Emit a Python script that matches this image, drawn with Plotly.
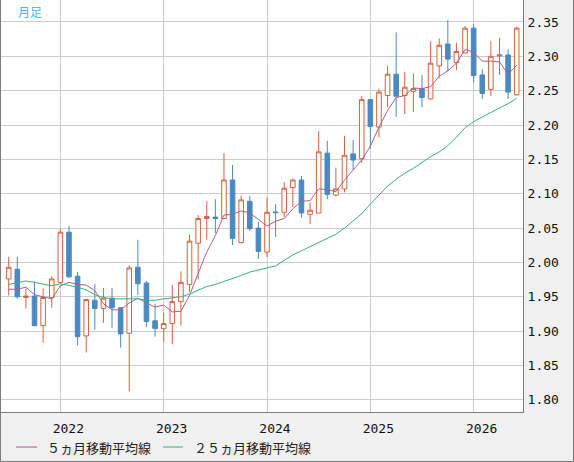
import plotly.graph_objects as go

# monthly candles, Jul 2021 - Jun 2026
months = [
    "2021-07", "2021-08", "2021-09", "2021-10", "2021-11", "2021-12",
    "2022-01", "2022-02", "2022-03", "2022-04", "2022-05", "2022-06",
    "2022-07", "2022-08", "2022-09", "2022-10", "2022-11", "2022-12",
    "2023-01", "2023-02", "2023-03", "2023-04", "2023-05", "2023-06",
    "2023-07", "2023-08", "2023-09", "2023-10", "2023-11", "2023-12",
    "2024-01", "2024-02", "2024-03", "2024-04", "2024-05", "2024-06",
    "2024-07", "2024-08", "2024-09", "2024-10", "2024-11", "2024-12",
    "2025-01", "2025-02", "2025-03", "2025-04", "2025-05", "2025-06",
    "2025-07", "2025-08", "2025-09", "2025-10", "2025-11", "2025-12",
    "2026-01", "2026-02", "2026-03", "2026-04", "2026-05", "2026-06",
]

opens = [
    1.976, 1.990, 1.949, 1.951, 1.908, 1.949, 1.971, 2.044, 1.980, 1.893,
    1.945, 1.933, 1.948, 1.934, 1.897, 1.993, 1.970, 1.915, 1.904, 1.911,
    1.943, 1.968, 2.028, 2.064, 2.066, 2.064, 2.120, 2.029, 2.089, 2.050,
    2.015, 2.0735, 2.073, 2.109, 2.120, 2.070, 2.072, 2.159, 2.098, 2.107,
    2.158, 2.151, 2.237, 2.197, 2.243, 2.274, 2.243, 2.249, 2.253, 2.238,
    2.286, 2.318, 2.291, 2.305, 2.341, 2.273, 2.252, 2.3005, 2.302, 2.244,
]
highs = [
    2.008, 2.008, 1.962, 1.972, 1.962, 1.980, 2.049, 2.053, 1.986, 1.947,
    1.969, 1.963, 1.963, 1.935, 1.996, 2.033, 1.973, 1.940, 1.927, 1.967,
    1.987, 2.040, 2.069, 2.089, 2.092, 2.159, 2.142, 2.097, 2.097, 2.059,
    2.094, 2.085, 2.117, 2.122, 2.126, 2.087, 2.191, 2.177, 2.138, 2.184,
    2.178, 2.242, 2.237, 2.253, 2.286, 2.335, 2.277, 2.275, 2.273, 2.322,
    2.326, 2.353, 2.320, 2.344, 2.347, 2.281, 2.322, 2.327, 2.310, 2.343,
]
lows = [
    1.952, 1.947, 1.933, 1.907, 1.883, 1.934, 1.970, 1.978, 1.879, 1.869,
    1.902, 1.912, 1.905, 1.876, 1.812, 1.953, 1.906, 1.892, 1.885, 1.881,
    1.908, 1.957, 1.975, 2.033, 2.043, 2.063, 2.025, 2.028, 2.046, 2.005,
    2.008, 2.037, 2.066, 2.081, 2.065, 2.056, 2.072, 2.092, 2.096, 2.102,
    2.135, 2.145, 2.166, 2.182, 2.226, 2.212, 2.216, 2.219, 2.226, 2.237,
    2.268, 2.278, 2.280, 2.305, 2.262, 2.238, 2.242, 2.273, 2.238, 2.243,
]
closes = [
    1.993, 1.950, 1.951, 1.908, 1.949, 1.976, 2.044, 1.979, 1.892, 1.946,
    1.933, 1.948, 1.934, 1.896, 1.992, 1.969, 1.914, 1.904, 1.911, 1.943,
    1.971, 2.031, 2.064, 2.067, 2.064, 2.120, 2.035, 2.091, 2.049, 2.016,
    2.073, 2.0725, 2.108, 2.120, 2.072, 2.076, 2.161, 2.099, 2.107, 2.156,
    2.149, 2.237, 2.198, 2.248, 2.274, 2.242, 2.255, 2.253, 2.240, 2.290,
    2.316, 2.296, 2.307, 2.341, 2.272, 2.246, 2.300, 2.302, 2.248, 2.341,
]

# moving averages
ma5 = [
    1.961, 1.961, 1.964, 1.953, 1.950, 1.947, 1.966, 1.971, 1.968, 1.967,
    1.959, 1.940, 1.931, 1.931, 1.941, 1.948, 1.941, 1.935, 1.938, 1.928,
    1.929, 1.952, 1.984, 2.015, 2.039, 2.069, 2.070, 2.075, 2.072, 2.062,
    2.053, 2.060, 2.064, 2.078, 2.089, 2.090, 2.107, 2.106, 2.103, 2.120,
    2.134, 2.149, 2.169, 2.197, 2.221, 2.240, 2.243, 2.254, 2.253, 2.256,
    2.271, 2.279, 2.290, 2.310, 2.306, 2.293, 2.293, 2.292, 2.274, 2.287,
]
ma25 = [
    1.968, 1.971, 1.973, 1.971, 1.968, 1.966, 1.969, 1.967, 1.964, 1.960,
    1.953, 1.949, 1.947, 1.947, 1.947, 1.947, 1.945, 1.945, 1.947, 1.948,
    1.950, 1.954, 1.960, 1.965, 1.968, 1.972, 1.976, 1.981, 1.986, 1.989,
    1.992, 1.995, 2.003, 2.011, 2.017, 2.023, 2.030, 2.035, 2.041, 2.050,
    2.060, 2.071, 2.085, 2.098, 2.111, 2.121, 2.130, 2.137, 2.146, 2.154,
    2.161, 2.170, 2.182, 2.196, 2.205, 2.212, 2.218, 2.225, 2.231, 2.239,
]

year_ticks = ["2022-01", "2023-01", "2024-01", "2025-01", "2026-01"]
year_labels = ["2022", "2023", "2024", "2025", "2026"]

UP = "#d6623e"
DOWN = "#4a89c1"
MA5_COLOR = "#b35c8c"
MA25_COLOR = "#35b27a"
FRAME = "#7a7a7a"
AXIS_FONT = dict(family="DejaVu Sans Mono", size=13, color="#111111")
JP_FONT = "Noto Sans CJK JP"

fig = go.Figure()
fig.add_trace(go.Candlestick(
    x=months, open=opens, high=highs, low=lows, close=closes,
    increasing=dict(line=dict(color=UP, width=1), fillcolor="#ffffff"),
    decreasing=dict(line=dict(color=DOWN, width=1), fillcolor=DOWN),
    whiskerwidth=0, showlegend=False, name="月足",
))
fig.add_trace(go.Scatter(
    x=months, y=ma5, mode="lines", name="５ヵ月移動平均線",
    line=dict(color=MA5_COLOR, width=1), showlegend=False,
))
fig.add_trace(go.Scatter(
    x=months, y=ma25, mode="lines", name="２５ヵ月移動平均線",
    line=dict(color=MA25_COLOR, width=1), showlegend=False,
))

# legend drawn below the plot, short line samples like the original
legend_y = -0.085
legend_items = [
    (0.0287, 0.069, 0.0843, "５ヵ月移動平均線", MA5_COLOR),
    (0.3103, 0.3487, 0.3659, "２５ヵ月移動平均線", MA25_COLOR),
]
shapes = []
annotations = [dict(
    text="月足", xref="paper", yref="paper", x=0.029, y=0.971,
    xanchor="left", yanchor="middle", showarrow=False,
    font=dict(family=JP_FONT, size=12, color="#3cbcf0"),
)]
for x0, x1, xt, label, color in legend_items:
    shapes.append(dict(type="line", xref="paper", yref="paper",
                       x0=x0, x1=x1, y0=legend_y, y1=legend_y,
                       line=dict(color=color, width=1)))
    annotations.append(dict(text=label, xref="paper", yref="paper",
                            x=xt, y=legend_y, xanchor="left", yanchor="middle",
                            showarrow=False,
                            font=dict(family=JP_FONT, size=13, color="#222222")))

# outer frame (left, right, bottom)
shapes += [
    dict(type="line", xref="paper", yref="paper", x0=-0.001, x1=-0.001,
         y0=1.0, y1=-0.1201, line=dict(color=FRAME, width=1)),
    dict(type="line", xref="paper", yref="paper", x0=1.0967, x1=1.0967,
         y0=1.0, y1=-0.1201, line=dict(color=FRAME, width=1)),
    dict(type="line", xref="paper", yref="paper", x0=-0.001, x1=1.0967,
         y0=-0.1201, y1=-0.1201, line=dict(color=FRAME, width=1)),
]

fig.update_layout(
    width=574, height=462,
    margin=dict(l=1, r=51, t=0, b=50),
    paper_bgcolor="#f0f0f0", plot_bgcolor="#ffffff",
    showlegend=False,
    boxgap=0.24,
    annotations=annotations,
    shapes=shapes,
    hovermode=False,
)

fig.update_xaxes(
    type="category", range=[-0.894, 59.73],
    rangeslider_visible=False,
    tickmode="array", tickvals=year_ticks, ticktext=year_labels,
    ticklabelshift=8, ticks="", ticklabelstandoff=4,
    showgrid=True, gridcolor="#cccccc", gridwidth=1,
    showline=True, linecolor=FRAME, linewidth=1,
    tickfont=AXIS_FONT, zeroline=False,
)
fig.update_yaxes(
    side="right", range=[1.7823, 2.382],
    tickmode="linear", tick0=1.80, dtick=0.05, tickformat=".2f",
    ticks="", ticklabelstandoff=1,
    showgrid=True, gridcolor="#cccccc", gridwidth=1,
    showline=True, linecolor=FRAME, linewidth=1,
    tickfont=AXIS_FONT, zeroline=False,
)

# page body has an 8px default margin; drop it so the chart fills the window
fig.write_html("out.html", config={"displayModeBar": False},
               post_script="document.body.style.margin='0';")
